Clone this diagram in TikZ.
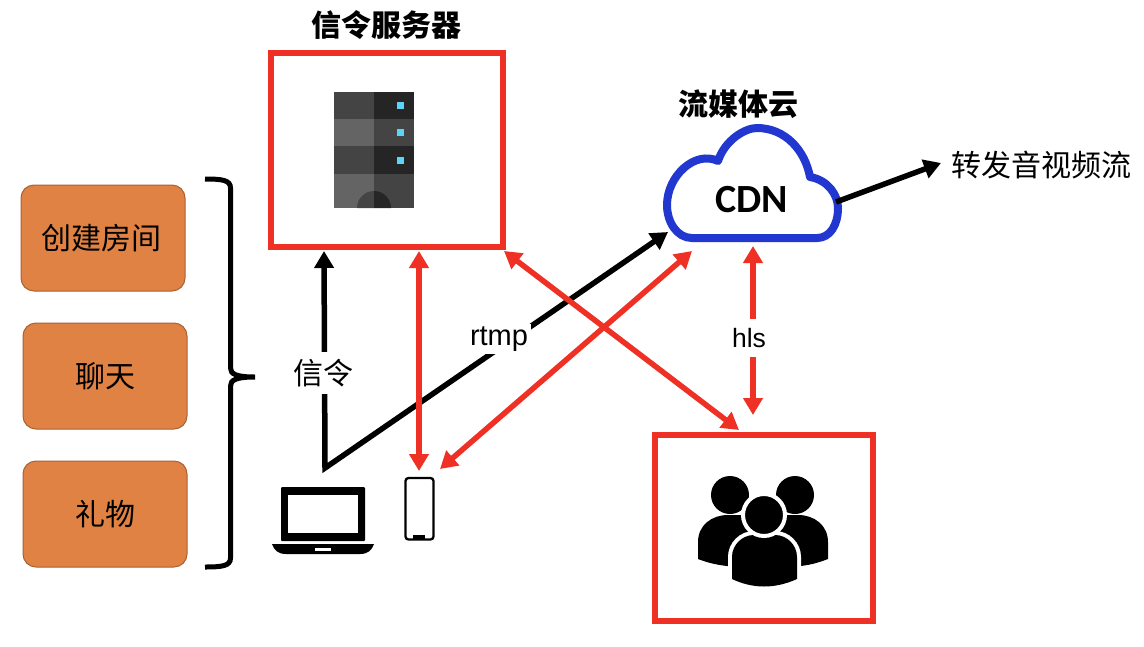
\documentclass[tikz,border=0pt]{standalone}
\usepackage{fontspec}
\setmainfont{Liberation Sans}
\newfontfamily\cjkfont{Noto Sans CJK SC}
\newfontfamily\cdnfont{Carlito}
\usetikzlibrary{arrows.meta}
\definecolor{boxred}{HTML}{EE3124}
\definecolor{boxorange}{HTML}{E08244}
\definecolor{cloudblue}{HTML}{2137CF}
\definecolor{ledblue}{HTML}{5AD4F9}
\tikzset{
  redbox/.style={draw=boxred, line width=6pt, minimum width=#1, inner sep=0pt},
  actbox/.style={draw=boxorange!75!black, fill=boxorange, line width=1pt, rounded corners=13pt,
    minimum width=164pt, minimum height=106pt, inner sep=0pt, font=\cjkfont\fontsize{30}{32}\selectfont},
  cjktext/.style={font=\cjkfont\fontsize{30}{32}\selectfont, inner sep=1pt},
  cjkbold/.style={font=\cjkfont\bfseries\fontsize{30}{32}\selectfont, inner sep=1pt},
  redarrow/.style={draw=boxred, line width=5.5pt, {Triangle[length=17pt,width=19pt]}-{Triangle[length=17pt,width=19pt]}},
  blackarrow/.style={draw=black, line width=5.5pt, -{Triangle[length=17pt,width=19pt]}},
  gaplabel/.style={fill=white, inner sep=3pt}
}
\begin{document}
\begin{tikzpicture}[x=1pt, y=-1pt]
  \useasboundingbox (0,0) rectangle (1144,646);
  % left column
  \node[actbox] (act1) at (103,238) {\hspace{-2pt}创建房间};
  \node[actbox] (act2) at (105,376) {聊天};
  \node[actbox] (act3) at (105,514) {礼物};
  \draw[line width=5pt] (205,179) .. controls (222,179) and (230.5,180) .. (230.5,188) -- (230.5,368)
    .. controls (230.5,374) and (236,377) .. (255,377) .. controls (236,377) and (230.5,380) .. (230.5,386)
    -- (230.5,558) .. controls (230.5,566) and (222,567) .. (205,567);
  % signalling server
  \node[redbox=232pt, minimum height=194pt] (server) at (387,150) {};
  \node[cjkbold] (servertitle) at (386,25) {信令服务器};
  \foreach \a/\b/\l/\r in {92/119/444444/252525,119/146/646464/444444,146/173.6/444444/252525,173.6/208/646464/444444}{
    \definecolor{leftc}{HTML}{\l}
    \definecolor{rightc}{HTML}{\r}
    \fill[leftc] (334,\a) rectangle (374,\b);
    \fill[rightc] (374,\a) rectangle (414,\b);
  }
  \fill[black!73] (357,208) arc[start angle=180, end angle=270, radius=17] -- (374,208) -- cycle;
  \fill[black!85] (391,208) arc[start angle=0, end angle=-90, radius=17] -- (374,208) -- cycle;
  \foreach \y in {105,132.5,160}{
    \fill[ledblue] (397,\y-3.5) rectangle (404.4,\y+3.5);
  }
  % laptop and phone
  \fill[rounded corners=1pt] (281,487) rectangle (365,541);
  \fill[white] (288,495) rectangle (358,533);
  \fill (272,544) -- (374,544) .. controls (372,550) and (368,554) .. (360,554) -- (286,554)
    .. controls (278,554) and (274,550) .. (272,544) -- cycle;
  \fill[white] (315,547.5) rectangle (331,551);
  \draw[line width=2.3pt, rounded corners=3pt] (405.5,478) rectangle (433.5,539.5);
  \fill (413,535) rectangle (425,539);
  % cdn cloud
  \node[cjkbold] (cloudtitle) at (738,104) {流媒体云};
  \draw[cloudblue, fill=white, line width=8pt, line join=round] (692,238)
    .. controls (677,238) and (667,222) .. (667,205)
    .. controls (667,176) and (695,150) .. (718,161)
    .. controls (725,140) and (745,128) .. (757,128)
    .. controls (785,128) and (805,150) .. (810,177)
    .. controls (828,180) and (838,195) .. (838,208)
    .. controls (838,225) and (830,238) .. (817,238) -- cycle;
  \node[font=\cdnfont\bfseries\fontsize{40}{42}\selectfont, inner sep=0pt] (cdn) at (752,200) {CDN};
  % audience
  \node[redbox=218pt, minimum height=186pt] (viewers) at (764,528) {};
  \foreach \x in {730,795}{ \fill (\x,495) circle[radius=19]; }
  \fill (698,559) -- (698,542) .. controls (698,525) and (712,515) .. (728,515) -- (798,515)
    .. controls (814,515) and (828,525) .. (828,542) -- (828,559)
    .. controls (815,564) and (808,565) .. (801,566) -- (727,566)
    .. controls (718,565) and (708,563) .. (698,559) -- cycle;
  \draw[white, line width=8pt, fill=black] (732,579) -- (732,557) .. controls (732,545) and (742,535) .. (754,535)
    -- (775,535) .. controls (787,535) and (797,545) .. (797,557) -- (797,579)
    .. controls (775,589) and (753,589) .. (732,579) -- cycle;
  \fill (732,579) -- (732,557) .. controls (732,545) and (742,535) .. (754,535)
    -- (775,535) .. controls (787,535) and (797,545) .. (797,557) -- (797,579)
    .. controls (775,589) and (753,589) .. (732,579) -- cycle;
  \draw[white, line width=4pt, fill=black] (764,515) circle[radius=21];
  % connector ends
  \coordinate (laptoptop) at (325,468);
  \coordinate (sigtip) at (324,251);
  \coordinate (rtmptip) at (668,232);
  \coordinate (forwardstart) at (836,202);
  \coordinate (forwardtip) at (941,163);
  \coordinate (phonetip) at (419,471);
  \coordinate (serverred) at (419,251);
  \coordinate (phoneside) at (440,469);
  \coordinate (cloudleft) at (692,251);
  \coordinate (servercorner) at (504,251);
  \coordinate (viewertop) at (739,430);
  \coordinate (hlstop) at (753,246);
  \coordinate (hlsbottom) at (753,415);
  \draw[blackarrow, {Triangle[length=17pt,width=19pt]}-{Triangle[length=17pt,width=19pt]}] (sigtip) -- (laptoptop) -- (rtmptip);
  \node[cjktext, gaplabel, inner ysep=7pt] (siglabel) at (323,373) {信令};
  \node[gaplabel, font=\fontsize{29}{32}\selectfont] (rtmplabel) at (499,339) {rtmp};
  \draw[redarrow] (serverred) -- (phonetip);
  \draw[redarrow] (cloudleft) -- (phoneside);
  \draw[redarrow] (servercorner) -- (viewertop);
  \draw[redarrow] (hlstop) -- (hlsbottom);
  \node[gaplabel, inner ysep=9pt, font=\fontsize{26.5}{30}\selectfont] (hlslabel) at (749,338) {hls};
  \draw[blackarrow] (forwardstart) -- (forwardtip);
  \node[cjktext] (forwardlabel) at (1041,165) {转发音视频流};
\end{tikzpicture}
\end{document}
